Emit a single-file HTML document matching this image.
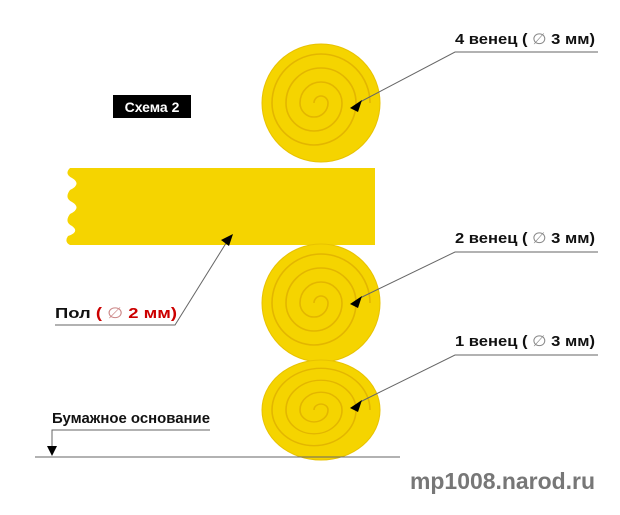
<!DOCTYPE html>
<html><head><meta charset="utf-8"><style>
body{margin:0;background:#fff;width:620px;height:510px;overflow:hidden}
text{font-family:"Liberation Sans",sans-serif;font-weight:bold}
</style></head><body>
<svg width="620" height="510" viewBox="0 0 620 510">
<defs>
<g id="sp" fill="none" stroke="#e3b600" stroke-width="1.6">
<path d="M-7,0 A7,7 0 0 1 7,0 A14,14 0 0 1 -21,0 A21,21 0 0 1 21,0 A28,28 0 0 1 -35,0 A35,35 0 0 1 35,0 A42,42 0 0 1 -49,0 A49,49 0 0 1 49,0"/>
</g>
</defs>
<path d="M70,168 L375,168 L375,245 L70,245 Q64,242 68,236 Q80,232 72,226 Q64,222 70,214 Q82,208 72,202 Q64,198 70,190 Q82,184 72,178 Q64,174 70,168 Z" fill="#f5d400"/>
<circle cx="321" cy="103" r="59" fill="#f5d400" stroke="#e8c200"/>
<use href="#sp" x="321" y="103"/>
<circle cx="321" cy="303" r="59" fill="#f5d400" stroke="#e8c200"/>
<use href="#sp" x="321" y="303"/>
<ellipse cx="321" cy="410" rx="59" ry="50" fill="#f5d400" stroke="#e8c200"/>
<g transform="translate(321,410) scale(1,0.85)"><use href="#sp"/></g>
<rect x="113" y="95" width="78" height="23" fill="#000"/>
<text x="152" y="112" fill="#fff" font-size="14" text-anchor="middle">Схема 2</text>
<g stroke="#666" stroke-width="1" fill="none">
<polyline points="598,52 455,52 360,102"/>
<polyline points="598,252 455,252 360,298"/>
<polyline points="598,355 455,355 360,402"/>
<polyline points="55,325 175,325 228,240"/>
<polyline points="210,430 52,430 52,452"/>
<line x1="35" y1="457" x2="400" y2="457"/>
</g>
<g fill="#000">
<polygon points="350,108 362,100 358,112"/>
<polygon points="350,304 362,296 358,308"/>
<polygon points="350,408 362,400 358,412"/>
<polygon points="221,240 233,234 229,246"/>
<polygon points="47,446 57,446 52,456"/>
</g>
<g font-size="15" fill="#111">
<text x="455" y="44" textLength="140" lengthAdjust="spacingAndGlyphs">4 венец ( <tspan font-weight="normal" fill="#888">∅</tspan> 3 мм)</text>
<text x="455" y="243" textLength="140" lengthAdjust="spacingAndGlyphs">2 венец ( <tspan font-weight="normal" fill="#888">∅</tspan> 3 мм)</text>
<text x="455" y="346" textLength="140" lengthAdjust="spacingAndGlyphs">1 венец ( <tspan font-weight="normal" fill="#888">∅</tspan> 3 мм)</text>
<text x="55" y="318" textLength="122" lengthAdjust="spacingAndGlyphs">Пол <tspan fill="#c00">( <tspan font-weight="normal" fill="#c88">∅</tspan> 2 мм)</tspan></text>
<text x="52" y="423" textLength="158" lengthAdjust="spacingAndGlyphs">Бумажное основание</text>
</g>
<text x="410" y="489" font-size="23" fill="#777" textLength="185" lengthAdjust="spacingAndGlyphs">mp1008.narod.ru</text>
</svg>
</body></html>
